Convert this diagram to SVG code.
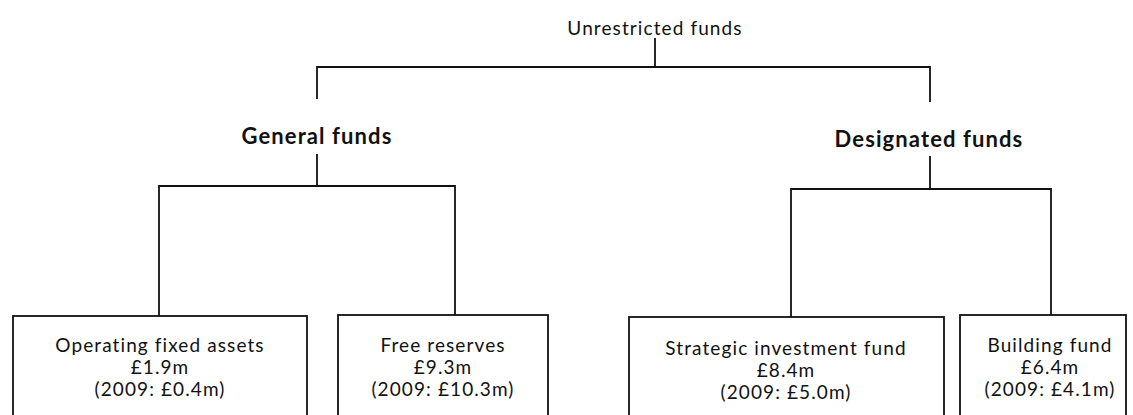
<svg xmlns="http://www.w3.org/2000/svg" width="1133" height="415" viewBox="0 0 1133 415">
<style>
text{font-family:Lato,"Liberation Sans",sans-serif;fill:#111;text-anchor:middle}
.t{font-size:19px;letter-spacing:1.1px}
.h{font-size:22px;font-weight:bold;letter-spacing:1.1px}
.b{fill:#fff;stroke:#111;stroke-width:1.8}
.c{fill:none;stroke:#111;stroke-width:1.8}
</style>
<g id="connectors">
<path class="c" d="M655,38V67M317,99V67H930V102"/>
<path class="c" d="M317,154V186M159,316V186H455V316"/>
<path class="c" d="M930,156V189M791,317V189H1051V315"/>
</g>
<g id="unrestricted"><text class="t" x="655" y="35">Unrestricted funds</text></g>
<g id="general"><text class="h" x="317" y="144">General funds</text></g>
<g id="designated"><text class="h" x="929" y="147">Designated funds</text></g>
<g id="operating">
<rect class="b" x="13" y="316" width="294" height="110"/>
<text class="t" x="160" y="352">Operating fixed assets</text>
<text class="t" x="160" y="374">£1.9m</text>
<text class="t" x="160" y="396">(2009: £0.4m)</text>
</g>
<g id="free">
<rect class="b" x="338" y="315" width="210" height="110"/>
<text class="t" x="443" y="352">Free reserves</text>
<text class="t" x="443" y="374">£9.3m</text>
<text class="t" x="443" y="396">(2009: £10.3m)</text>
</g>
<g id="strategic">
<rect class="b" x="629" y="317" width="315" height="110"/>
<text class="t" x="786" y="355">Strategic investment fund</text>
<text class="t" x="786" y="377">£8.4m</text>
<text class="t" x="786" y="399">(2009: £5.0m)</text>
</g>
<g id="building">
<rect class="b" x="960" y="315" width="166" height="110"/>
<text class="t" x="1050" y="352">Building fund</text>
<text class="t" x="1050" y="374">£6.4m</text>
<text class="t" x="1050" y="396">(2009: £4.1m)</text>
</g>
</svg>
